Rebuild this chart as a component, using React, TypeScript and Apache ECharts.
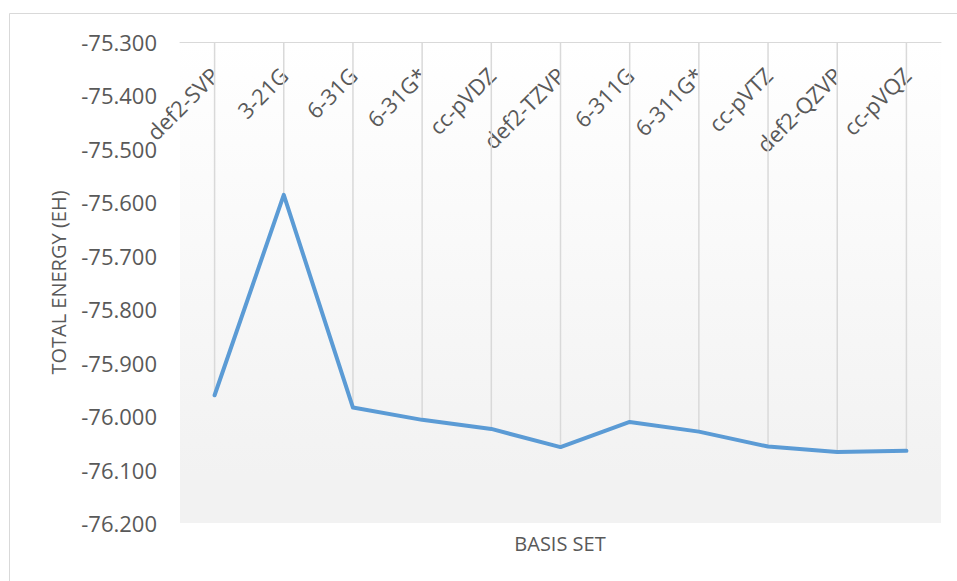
import React, { useEffect, useRef } from "react";
import * as echarts from "echarts";

const categories = [
  "def2-SVP",
  "3-21G",
  "6-31G",
  "6-31G*",
  "cc-pVDZ",
  "def2-TZVP",
  "6-311G",
  "6-311G*",
  "cc-pVTZ",
  "def2-QZVP",
  "cc-pVQZ",
];
const totalEnergy = [
  -75.961, -75.586, -75.984, -76.007, -76.024, -76.058, -76.011, -76.029, -76.057, -76.067,
  -76.065,
];
const yMin = -76.2;
const yMax = -75.3;
const yInterval = 0.1;
const yAxisName = "TOTAL ENERGY (EH)";
const xAxisName = "BASIS SET";

export default function App() {
  const ref = useRef<HTMLDivElement>(null);
  useEffect(() => {
    if (!ref.current) return;
    const chart = echarts.init(ref.current, null, { renderer: "svg" });
    const font = "'Open Sans', 'Noto Sans', sans-serif";
    const textColor = "#595959";
    chart.setOption({
      animation: false,
      backgroundColor: "#ffffff",
      textStyle: { fontFamily: font },
      grid: {
        left: 180,
        top: 42,
        right: 16,
        bottom: 58,
        show: true,
        borderWidth: 0,
        backgroundColor: {
          type: "linear",
          x: 0,
          y: 0,
          x2: 0,
          y2: 1,
          colorStops: [
            { offset: 0, color: "#ffffff" },
            { offset: 0.9, color: "#f2f2f2" },
            { offset: 1, color: "#f2f2f2" },
          ],
        },
      },
      graphic: [
        {
          type: "rect",
          shape: { x: 9.5, y: 13.5, width: 1000, height: 1000 },
          style: { fill: "none", stroke: "#d9d9d9", lineWidth: 1 },
          silent: true,
          z: -1,
        },
        {
          type: "text",
          x: 560,
          y: 543,
          style: {
            text: xAxisName,
            fill: textColor,
            font: `20px ${font}`,
            textAlign: "center",
            textVerticalAlign: "middle",
          },
        },
      ],
      xAxis: {
        type: "category",
        data: categories,
        position: "top",
        boundaryGap: true,
        axisLine: { show: true, lineStyle: { color: "#d9d9d9", width: 1 } },
        axisTick: { show: false },
        splitLine: { show: false },
        axisLabel: {
          inside: true,
          rotate: -45,
          interval: 0,
          margin: 29,
          fontSize: 22,
          color: textColor,
          fontFamily: font,
        },
      },
      yAxis: {
        type: "value",
        min: yMin,
        max: yMax,
        interval: yInterval,
        axisLine: { show: false },
        axisTick: { show: false },
        splitLine: { show: false },
        axisLabel: {
          margin: 23,
          fontSize: 22,
          color: textColor,
          fontFamily: font,
          formatter: (v: number) => v.toFixed(3),
        },
        name: yAxisName,
        nameLocation: "middle",
        nameGap: 112,
        nameTextStyle: { fontSize: 20, color: textColor, fontFamily: font },
      },
      series: [
        {
          type: "bar",
          data: totalEnergy,
          barWidth: 1.5,
          clip: true,
          itemStyle: { color: "#d9d9d9" },
          silent: true,
          z: 1,
        },
        {
          type: "line",
          data: totalEnergy,
          symbol: "none",
          lineStyle: { color: "#5B9BD5", width: 4, cap: "round", join: "round" },
          z: 3,
        },
      ],
    });
    return () => chart.dispose();
  }, []);
  return (
    <div
      ref={ref}
      style={{ position: "fixed", left: 0, top: 0, width: 957, height: 581 }}
    />
  );
}
